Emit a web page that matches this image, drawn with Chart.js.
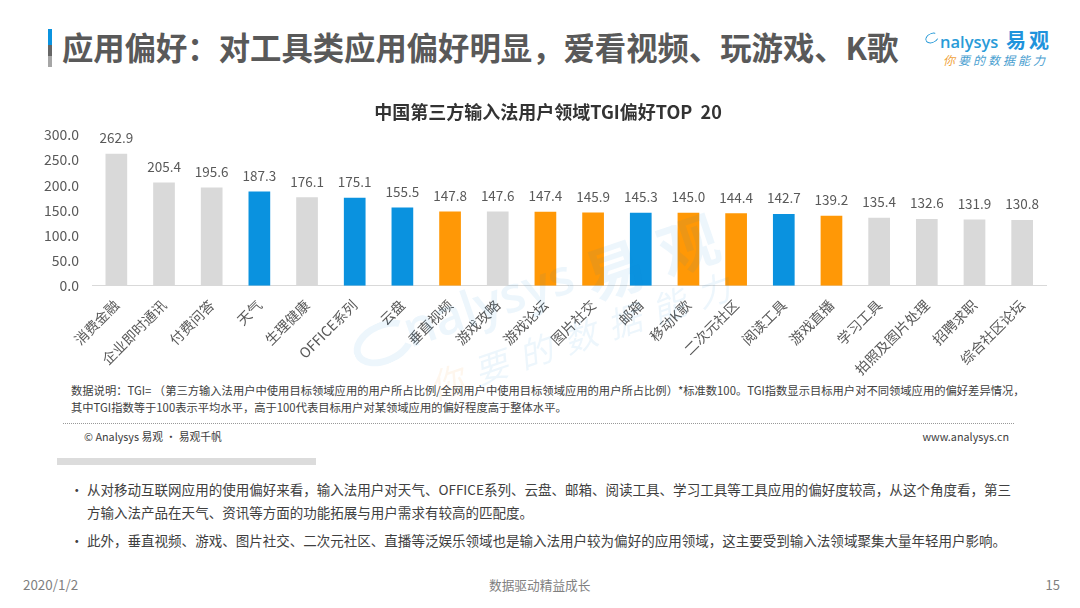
<!DOCTYPE html>
<html>
<head>
<meta charset="utf-8">
<script src="https://cdn.jsdelivr.net/npm/chart.js@4"></script>
<style>
  html, body { margin: 0; padding: 0; background: #fff; }
  body { width: 1080px; height: 608px; position: relative; overflow: hidden; font-family: "Noto Sans CJK SC", sans-serif; }
  .t { position: absolute; white-space: nowrap; line-height: 1; }
  .wm { position: absolute; white-space: nowrap; line-height: 1; transform-origin: 0 50%; transform: rotate(-19deg); color: rgba(20,140,210,.075); }
  #wrap { position: absolute; left: 40px; top: 96px; width: 1016px; height: 284px; }
</style>
</head>
<body>
<div style="position:absolute;left:48px;top:29px;width:4px;height:38px;background:linear-gradient(#0b93df 0,#0b93df 42%,#666 42%,#666 70%,#a6a6a6 70%)"></div>
<div class="t" style="left:62px;top:31px;font-size:31.35px;font-weight:700;color:#595959">应用偏好：对工具类应用偏好明显，爱看视频、玩游戏、K歌</div>

<div style="position:absolute;left:925px;top:33px;width:12px;height:8px;border:1.5px solid #2a9bd8;border-right-color:transparent;border-radius:50%;transform:rotate(-25deg)"></div>
<div class="t" style="left:940px;top:34px;font-size:16.5px;font-weight:600;font-family:'Open Sans';color:#2a9bd8">nalysys</div>
<div class="t" style="left:1006px;top:30px;font-size:20px;font-weight:700;letter-spacing:3px;color:#1f93dc">易观</div>
<div class="t" style="left:943px;top:54px;font-size:12px;font-style:italic;letter-spacing:3px;color:#4aa0d0"><span style="color:#f0a33c">你</span>要的数据能力</div>

<div id="wrap"><canvas id="tgiChart"></canvas></div>

<div class="t" style="left:71px;top:385px;font-size:11.3px;color:#404040">数据说明：TGI= （第三方输入法用户中使用目标领域应用的用户所占比例/全网用户中使用目标领域应用的用户所占比例）*标准数100。TGI指数显示目标用户对不同领域应用的偏好差异情况，</div>
<div class="t" style="left:71px;top:402px;font-size:11.3px;color:#404040">其中TGI指数等于100表示平均水平，高于100代表目标用户对某领域应用的偏好程度高于整体水平。</div>
<div style="position:absolute;left:63px;top:423px;width:951px;border-top:1px dotted #999"></div>
<div class="t" style="left:84px;top:431px;font-size:10.8px;color:#404040">© Analysys 易观 · 易观千帆</div>
<div class="t" style="right:71px;top:431px;font-size:10.8px;color:#404040">www.analysys.cn</div>
<div style="position:absolute;left:57px;top:458px;width:259px;height:7px;background:#dcdcdc"></div>

<div class="t" style="left:70px;top:483px;font-size:13.53px;color:#404040">•</div>
<div class="t" style="left:87px;top:483px;font-size:13.53px;color:#404040">从对移动互联网应用的使用偏好来看，输入法用户对天气、OFFICE系列、云盘、邮箱、阅读工具、学习工具等工具应用的偏好度较高，从这个角度看，第三</div>
<div class="t" style="left:87px;top:506px;font-size:13.53px;color:#404040">方输入法产品在天气、资讯等方面的功能拓展与用户需求有较高的匹配度。</div>
<div class="t" style="left:70px;top:534px;font-size:13.53px;color:#404040">•</div>
<div class="t" style="left:87px;top:534px;font-size:13.53px;color:#404040">此外，垂直视频、游戏、图片社交、二次元社区、直播等泛娱乐领域也是输入法用户较为偏好的应用领域，这主要受到输入法领域聚集大量年轻用户影响。</div>

<div class="t" style="left:23px;top:578px;font-size:13.4px;color:#7f7f7f">2020/1/2</div>
<div class="t" style="left:489px;top:579px;font-size:12.7px;color:#7f7f7f">数据驱动精益成长</div>
<div class="t" style="right:20px;top:578px;font-size:13px;color:#7f7f7f">15</div>

<div style="position:absolute;left:352px;top:322px;width:50px;height:28px;border:7px solid rgba(20,140,210,.075);border-right-color:transparent;border-radius:50%;transform:rotate(-25deg)"></div>
<div class="wm" style="left:404px;top:305px;font-size:50px;font-weight:600;font-family:'Open Sans'">nalysys</div>
<div class="wm" style="left:585px;top:247px;font-size:60px;font-weight:700;letter-spacing:18px">易观</div>
<div class="wm" style="left:430px;top:370px;font-size:34px;letter-spacing:13px;font-style:italic"><span style="color:rgba(240,160,50,.09)">你</span>要的数据能力</div>

<script>
var categories = ["消费金融", "企业即时通讯", "付费问答", "天气", "生理健康", "OFFICE系列", "云盘", "垂直视频", "游戏攻略", "游戏论坛", "图片社交", "邮箱", "移动K歌", "二次元社区", "阅读工具", "游戏直播", "学习工具", "拍照及图片处理", "招聘求职", "综合社区论坛"];
var tgiValues = [262.9, 205.4, 195.6, 187.3, 176.1, 175.1, 155.5, 147.8, 147.6, 147.4, 145.9, 145.3, 145.0, 144.4, 142.7, 139.2, 135.4, 132.6, 131.9, 130.8];
var groups = ["other", "other", "other", "tool", "other", "tool", "tool", "fun", "other", "fun", "fun", "tool", "fun", "fun", "tool", "fun", "other", "other", "other", "other"];
var yTicks = [0, 50, 100, 150, 200, 250, 300];

var groupColors = { other: "#d9d9d9", tool: "#0a92df", fun: "#ff9806" };
var fontFamily = '"Noto Sans CJK SC", sans-serif';

// chart.js has no value labels of its own
var valueLabels = {
  id: "valueLabels",
  afterLayout: function (chart) {
    // title sits centred over the whole canvas, right padding not counted
    chart.titleBlock.right = chart.width;
  },
  afterDatasetsDraw: function (chart) {
    var ctx = chart.ctx;
    ctx.save();
    ctx.font = "13.5px " + fontFamily;
    ctx.fillStyle = "#595959";
    ctx.textAlign = "center";
    ctx.textBaseline = "bottom";
    chart.getDatasetMeta(0).data.forEach(function (bar, i) {
      ctx.fillText(tgiValues[i].toFixed(1), bar.x, bar.y - 9);
    });
    ctx.restore();
  }
};

var chartCtx = document.getElementById("tgiChart").getContext("2d");
var tgiChart = new Chart(chartCtx, {
  type: "bar",
  data: {
    labels: categories,
    datasets: [
      {
        label: "TGI",
        data: tgiValues,
        backgroundColor: groups.map(function (g) {
          return groupColors[g];
        }),
        barPercentage: 0.455,
        categoryPercentage: 1
      }
    ]
  },
  options: {
    responsive: true,
    maintainAspectRatio: false,
    animation: false,
    layout: { padding: { right: 10 } },
    plugins: {
      legend: { display: false },
      tooltip: { enabled: false },
      title: {
        display: true,
        text: "中国第三方输入法用户领域TGI偏好TOP  20",
        color: "#333333",
        font: { family: fontFamily, size: 18, weight: "bold" },
        padding: { top: 5, bottom: 12.4 }
      }
    },
    scales: {
      x: {
        grid: { display: false, drawTicks: false },
        border: { color: "#d9d9d9" },
        ticks: {
          autoSkip: false,
          maxRotation: 45,
          minRotation: 45,
          padding: 11,
          color: "#595959",
          font: { family: fontFamily, size: 14 }
        },
        afterFit: function (axis) {
          axis.height = 94.3;
        }
      },
      y: {
        min: 0,
        max: 300,
        grid: { display: false, drawTicks: false },
        border: { display: false },
        afterBuildTicks: function (axis) {
          axis.ticks = yTicks.map(function (v) {
            return { value: v };
          });
        },
        afterFit: function (axis) {
          axis.width = 52.5;
        },
        ticks: {
          padding: 13.5,
          color: "#595959",
          font: { family: fontFamily, size: 14 },
          callback: function (v) {
            return Number(v).toFixed(1);
          }
        }
      }
    }
  },
  plugins: [valueLabels]
});
</script>
</body>
</html>
